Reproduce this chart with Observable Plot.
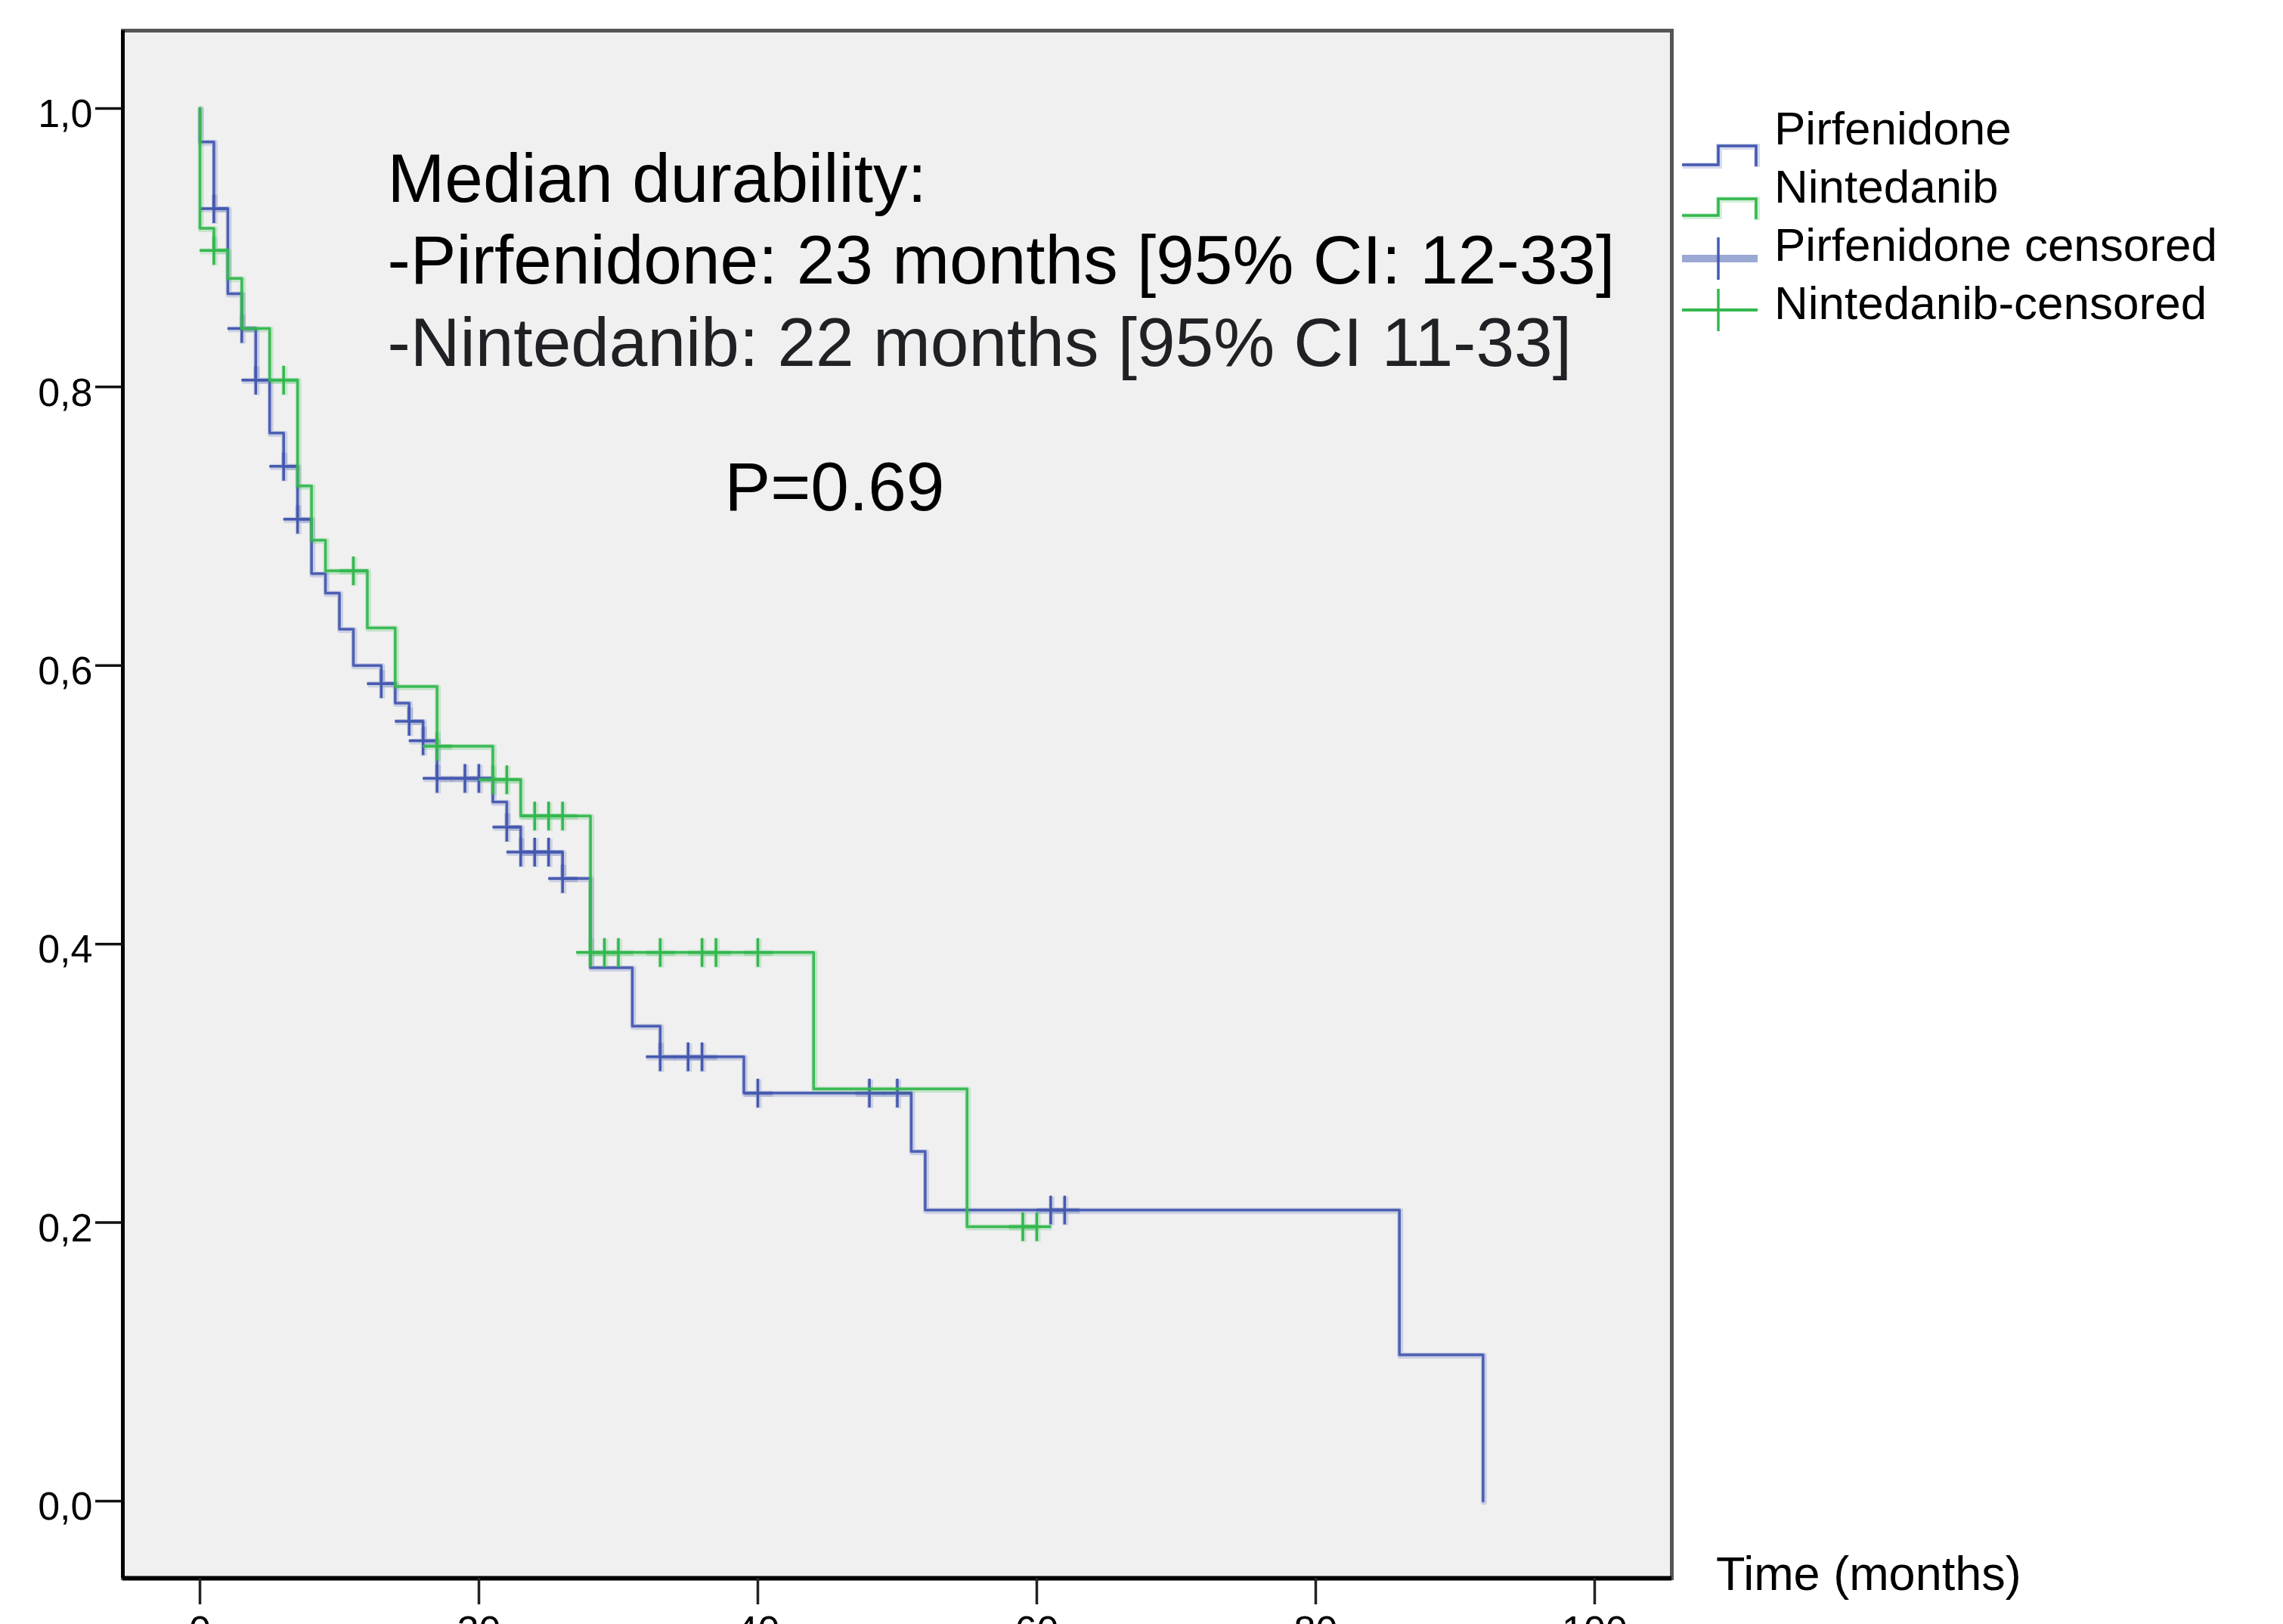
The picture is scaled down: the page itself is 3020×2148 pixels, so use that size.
<!DOCTYPE html>
<html>
<head>
<meta charset="utf-8">
<script src="https://cdn.jsdelivr.net/npm/d3@7"></script>
<script src="https://cdn.jsdelivr.net/npm/@observablehq/plot@0.6"></script>
<style>
  html, body { margin: 0; padding: 0; background: #ffffff; overflow: hidden; }
  #wrap { position: relative; width: 3020px; height: 2148px; font-family: "Liberation Sans", Arial, sans-serif; }
  #wrap > svg { position: absolute; left: 0; top: 0; }
  #overlay { pointer-events: none; }
</style>
</head>
<body>
<div id="wrap"></div>
<script>
// ---------------- DATA ----------------
// Pirfenidone: event times (months) and Kaplan-Meier survival after each event
const pirfEventTimes = [0, 1, 2, 3, 4, 5, 6, 7, 8, 9, 10, 11, 13, 14, 15, 16, 17, 21, 22, 23, 26, 28, 31, 33, 39, 51, 52, 86, 92];
const pirfSurvival   = [0.976, 0.928, 0.867, 0.842, 0.805, 0.767, 0.743, 0.705, 0.666, 0.652, 0.626, 0.600, 0.587, 0.573, 0.560, 0.546, 0.519, 0.502, 0.484, 0.466, 0.447, 0.383, 0.341, 0.319, 0.293, 0.251, 0.209, 0.105, 0.0];
const pirfCensorTimes = [1, 3, 4, 6, 7, 13, 15, 16, 17, 19, 20, 22, 23, 24, 25, 26, 33, 35, 36, 40, 48, 50, 61, 62];

// Nintedanib
const ninEventTimes = [0, 1, 2, 3, 5, 7, 8, 9, 12, 14, 17, 21, 23, 28, 44, 55];
const ninSurvival   = [0.914, 0.898, 0.878, 0.842, 0.805, 0.729, 0.690, 0.668, 0.627, 0.585, 0.542, 0.518, 0.492, 0.394, 0.296, 0.197];
const ninCensorTimes = [1, 6, 11, 17, 21, 22, 24, 25, 26, 28, 29, 30, 33, 36, 37, 40, 59, 60];

const seriesNames = ["Pirfenidone", "Nintedanib"];
const legendLabels = ["Pirfenidone", "Nintedanib", "Pirfenidone censored", "Nintedanib-censored"];
const xTicks = [0, 20, 40, 60, 80, 100];
const yTicks = [0, 0.2, 0.4, 0.6, 0.8, 1.0];
const annotationLines = [
  "Median durability:",
  "-Pirfenidone: 23 months [95% CI: 12-33]",
  "-Nintedanib: 22 months [95% CI 11-33]"
];
const pValueText = "P=0.69";
const xTitle = "Time (months)";

// ---------------- styling ----------------
const BLUE = "#4559b0";
const GREEN = "#33b84e";
const FONT = "'Liberation Sans', Arial, Helvetica, sans-serif";
const xDomain = [-5.53, 105.53];
const yDomain = [-0.0554, 1.0559];

// ---------------- derived tables ----------------
function stepTable(times, surv, censors, name) {
  const pts = [{t: 0, s: 1, series: name}];
  times.forEach((t, i) => pts.push({t, s: surv[i], series: name}));
  const lastEvent = times[times.length - 1];
  const lastCensor = d3.max(censors);
  if (lastCensor > lastEvent) pts.push({t: lastCensor, s: surv[surv.length - 1], series: name});
  return pts;
}
function levelAt(times, surv, t) {
  let s = 1;
  times.forEach((et, i) => { if (et <= t) s = surv[i]; });
  return s;
}
function censorTable(times, surv, censors, name) {
  return censors.map(t => ({t, s: levelAt(times, surv, t), series: name}));
}
const pirfSteps = stepTable(pirfEventTimes, pirfSurvival, pirfCensorTimes, seriesNames[0]);
const ninSteps = stepTable(ninEventTimes, ninSurvival, ninCensorTimes, seriesNames[1]);
const pirfCens = censorTable(pirfEventTimes, pirfSurvival, pirfCensorTimes, seriesNames[0]);
const ninCens = censorTable(ninEventTimes, ninSurvival, ninCensorTimes, seriesNames[1]);

// open plus symbol (stroke only)
const plusSymbol = {
  draw(context, size) {
    const r = Math.sqrt(size / Math.PI);
    context.moveTo(-r, 0); context.lineTo(r, 0);
    context.moveTo(0, -r); context.lineTo(0, r);
  }
};

const annotationMarks = annotationLines.map((line, i) =>
  Plot.text([line], {
    text: d => d,
    frameAnchor: "top-left",
    textAnchor: "start",
    lineAnchor: "bottom",
    dx: 350,
    dy: 226 + i * 108.5,
    fontSize: 91,
    fill: i === 2 ? "#202124" : "#000000"
  })
);

function curveMarks(steps, cens, color) {
  return [
    // soft halo (anti-aliased look of the original)
    Plot.line(steps, {x: "t", y: "s", curve: "step-after", stroke: color, strokeWidth: 8, strokeOpacity: 0.22, dx: 1, dy: 1}),
    Plot.line(steps, {x: "t", y: "s", curve: "step-after", stroke: color, strokeWidth: 3.5, strokeOpacity: 0.95}),
    Plot.dot(cens, {x: "t", y: "s", symbol: plusSymbol, r: 19, fill: "none", stroke: color, strokeWidth: 8, strokeOpacity: 0.2, dx: 1, dy: 1}),
    Plot.dot(cens, {x: "t", y: "s", symbol: plusSymbol, r: 19, fill: "none", stroke: color, strokeWidth: 3.5})
  ];
}

const chart = Plot.plot({
  width: 3020,
  height: 2148,
  marginLeft: 162,
  marginRight: 809,
  marginTop: 40,
  marginBottom: 61,
  style: {background: "transparent", fontFamily: FONT, color: "#000"},
  x: {domain: xDomain, label: null},
  y: {domain: yDomain, label: null},
  marks: [
    Plot.frame({fill: "#f0f0f0", stroke: "#555555", strokeWidth: 5}),
    Plot.ruleX([xDomain[0]], {stroke: "#000", strokeWidth: 5}),
    Plot.ruleY([yDomain[0]], {stroke: "#000", strokeWidth: 6}),
    // x axis: ticks + labels (cut by the picture's lower edge, as in the original)
    Plot.axisX({ticks: xTicks, tickSize: 35, tickPadding: 15, stroke: "#222", strokeWidth: 3.5, fontSize: 52, tickFormat: d => String(d), label: null}),
    // y axis ticks
    Plot.axisY({ticks: yTicks, tickSize: 36, fill: "none", stroke: "#111", strokeWidth: 3.5, label: null}),
    // y axis labels
    Plot.axisY({ticks: yTicks, tickSize: 36, tickPadding: 4, stroke: "none", fontSize: 52, dy: 8,
                tickFormat: d => d.toFixed(1).replace(".", ","), label: null}),
    // survival curves + censor marks
    ...curveMarks(pirfSteps, pirfCens, BLUE),
    ...curveMarks(ninSteps, ninCens, GREEN),
    // annotation
    ...annotationMarks,
    Plot.text([pValueText], {text: d => d, frameAnchor: "top-left", textAnchor: "start", lineAnchor: "bottom",
                             dx: 796, dy: 634, fontSize: 91, fill: "#000"})
  ]
});

const wrap = document.getElementById("wrap");
wrap.appendChild(chart);

// ---------------- legend + x title (overlay) ----------------
const ov = d3.select(wrap).append("svg")
  .attr("id", "overlay")
  .attr("width", 3020).attr("height", 2148)
  .style("font-family", FONT);

const legendItems = [
  {label: legendLabels[0], baseline: 191, kind: "step", color: BLUE, yLow: 218, yHigh: 193, yEnd: 220},
  {label: legendLabels[1], baseline: 268, kind: "step", color: GREEN, yLow: 285, yHigh: 263, yEnd: 290},
  {label: legendLabels[2], baseline: 345, kind: "plusThick", color: BLUE, cy: 342},
  {label: legendLabels[3], baseline: 422, kind: "plus", color: GREEN, cy: 410}
];
legendItems.forEach(it => {
  if (it.kind === "step") {
    ov.append("path")
      .attr("d", `M2225,${it.yLow}H2273V${it.yHigh}H2323V${it.yEnd}`)
      .attr("fill", "none").attr("stroke", it.color).attr("stroke-width", 8).attr("stroke-opacity", 0.22)
      .attr("transform", "translate(1,1)");
    ov.append("path")
      .attr("d", `M2225,${it.yLow}H2273V${it.yHigh}H2323V${it.yEnd}`)
      .attr("fill", "none").attr("stroke", it.color).attr("stroke-width", 3.5);
  } else {
    ov.append("line").attr("x1", 2225).attr("x2", 2325).attr("y1", it.cy).attr("y2", it.cy)
      .attr("stroke", it.kind === "plusThick" ? "#9aa8d4" : it.color)
      .attr("stroke-width", it.kind === "plusThick" ? 10 : 4);
    ov.append("line").attr("x1", 2273).attr("x2", 2273).attr("y1", it.cy - 28).attr("y2", it.cy + 28)
      .attr("stroke", it.color).attr("stroke-width", 3.5);
  }
  ov.append("text").attr("x", 2347).attr("y", it.baseline)
    .attr("font-size", 62).attr("fill", "#000").text(it.label);
});

ov.append("text").attr("x", 2270).attr("y", 2103)
  .attr("font-size", 63).attr("fill", "#000").text(xTitle);
</script>
</body>
</html>
